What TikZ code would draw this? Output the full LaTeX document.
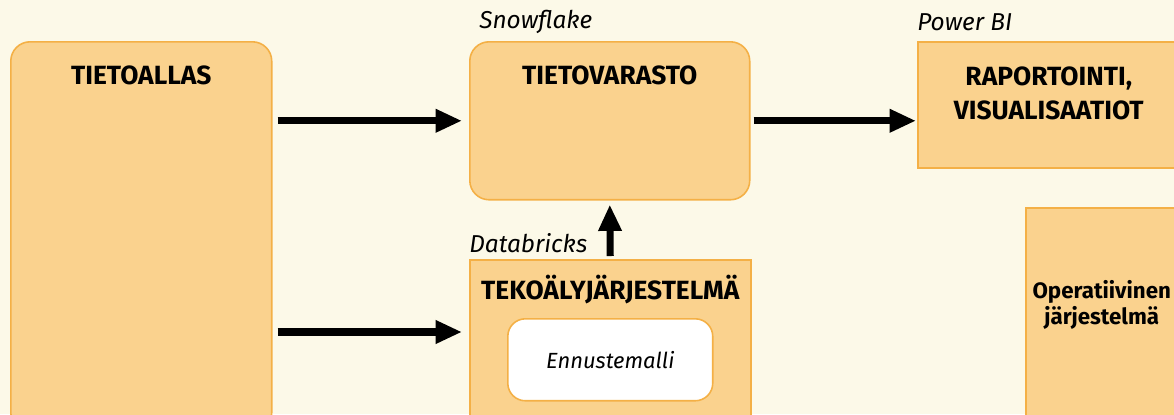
\documentclass[tikz,border=0pt]{standalone}
\usepackage{fontspec}
\setmainfont{Fira Sans}
\usetikzlibrary{arrows.meta,positioning}
\definecolor{paper}{HTML}{FCF9E8}
\definecolor{boxfill}{HTML}{FAD28E}
\definecolor{boxline}{HTML}{F4B046}

\begin{document}
\begin{tikzpicture}[x=0.02cm, y=-0.02cm,
  box/.style={draw=boxline, fill=boxfill, line width=0.9pt, inner sep=0pt, anchor=north west},
  roundbox/.style={box, rounded corners=11pt},
  heading/.style={font=\fontsize{15}{19}\selectfont\bfseries, align=center, inner sep=0pt},
  toolname/.style={font=\fontsize{13.9}{16}\selectfont\itshape, anchor=west, inner sep=0pt},
  flow/.style={-{Triangle[length=15pt, width=12.5pt]}, line width=4pt}]
  \useasboundingbox (0,0) rectangle (1174,414);
  \clip (0,0) rectangle (1174,414);
  \fill[paper] (0,0) rectangle (1174,414);

  % Boxes
  \node[roundbox, minimum width=5.22cm, minimum height=7.8cm] (tietoallas) at (10,41) {};
  \node[roundbox, minimum width=5.6cm, minimum height=3.16cm] (tietovarasto) at (469,41) {};
  \node[box, minimum width=5.62cm, minimum height=3.6cm] (teko) at (469,259) {};
  \node[box, rounded corners=10pt, fill=white, minimum width=4.1cm, minimum height=1.64cm] (ennuste) at (507,318) {};
  \node[box, minimum width=5.24cm, minimum height=2.52cm] (raportointi) at (917,41) {};
  \node[box, minimum width=3.04cm, minimum height=4.4cm] (operatiivinen) at (1025,207) {};

  % Texts
  \node[heading] (tietoallasText) at ([yshift=-0.68cm]tietoallas.north) {TIETOALLAS};
  \node[heading] (tietovarastoText) at ([yshift=-0.68cm]tietovarasto.north) {TIETOVARASTO};
  \node[heading] (tekoText) at ([yshift=-0.62cm]teko.north) {TEKOÄLYJÄRJESTELMÄ};
  \node[font=\fontsize{12.5}{15}\selectfont\itshape] (ennusteText) at (ennuste.center) {Ennustemalli};
  \node[heading] (raportointiText) at ([yshift=-1.05cm]raportointi.north) {RAPORTOINTI,\\VISUALISAATIOT};
  \node[heading, font=\fontsize{12.7}{14.5}\selectfont\bfseries] (operatiivinenText) at ([yshift=-1.96cm]operatiivinen.north) {Operatiivinen\\järjestelmä};

  % Tools
  \node[toolname] (snowflake) at ([xshift=0.2cm, yshift=0.38cm]tietovarasto.north west) {Snowflake};
  \node[toolname] (databricks) at ([yshift=0.32cm]teko.north west) {Databricks};
  \node[toolname] (powerbi) at ([yshift=0.38cm]raportointi.north west) {Power BI};

  % Arrows
  \coordinate (tekoIn) at (469,332);
  \draw[flow, shorten <=0.1cm, shorten >=0.14cm] (tietoallas.east |- tietovarasto.west) -- (tietovarasto.west);
  \draw[flow, shorten <=0.1cm, shorten >=0.14cm] (tietoallas.east |- tekoIn) -- (tekoIn);
  \draw[flow, shorten <=0.06cm, shorten >=0.02cm] (tietovarasto.east) -- (raportointi.west |- tietovarasto.east);
  \draw[flow, shorten <=0.06cm, shorten >=0.08cm] (teko.north) -- (tietovarasto.south);
\end{tikzpicture}
\end{document}
